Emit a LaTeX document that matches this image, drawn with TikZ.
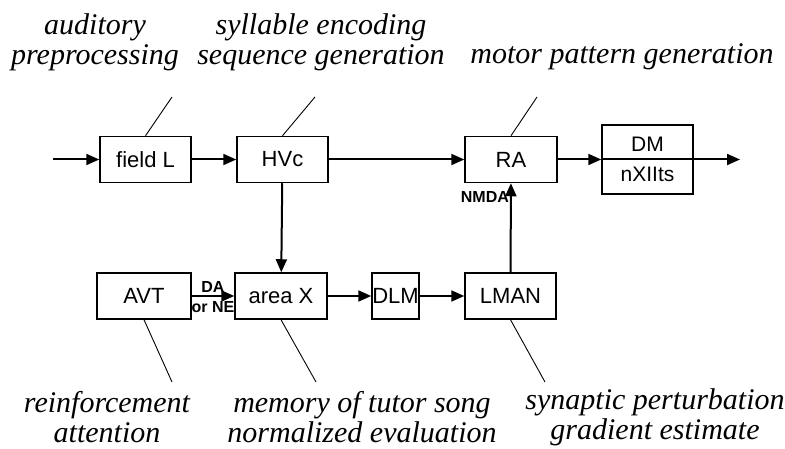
\documentclass[tikz,border=0pt]{standalone}
\usepackage{fontspec}
\setmainfont{Liberation Serif}
\setsansfont{Liberation Sans}
\usetikzlibrary{arrows.meta}

\begin{document}
\begin{tikzpicture}[x=1pt,y=-1pt,
  kasten/.style={draw,line width=1.5pt,minimum height=46pt,inner sep=0pt,font=\sffamily\fontsize{22}{24}\selectfont},
  pfeil/.style={line width=2pt,-{Triangle[length=13pt,width=11pt]}},
  zeiger/.style={line width=0.9pt},
  notiz/.style={align=center,font=\itshape\fontsize{30}{30}\selectfont},
  klein/.style={font=\sffamily\bfseries\fontsize{16}{16}\selectfont,inner sep=1pt}]
% Maße (pt, y nach unten)
\def\yo{159.5} % obere Reihe
\def\yu{296}   % untere Reihe

\useasboundingbox (0,0) rectangle (785,449);

% obere Reihe
\node[kasten,minimum width=91pt] (fieldL) at (145.5,\yo) {field L};
\node[kasten,minimum width=91pt] (HVc) at (282.5,\yo) {HVc};
\node[kasten,minimum width=92pt] (RA) at (511,\yo) {RA};
\node[kasten,minimum width=91pt,minimum height=69pt,align=center,
      font=\sffamily\fontsize{21}{30}\selectfont] (DM) at (647.5,\yo) {DM\\nXIIts};

% untere Reihe
\node[kasten,minimum width=94pt] (AVT) at (144,\yu) {AVT};
\node[kasten,minimum width=92pt] (areaX) at (281,\yu) {area X};
\node[kasten,minimum width=47pt] (DLM) at (395.5,\yu) {DLM};
\node[kasten,minimum width=91pt] (LMAN) at (510.5,\yu) {LMAN};

% Ein- und Ausgang
\coordinate (ein) at (53,\yo);
\coordinate (aus) at (740,\yo);

% Verbindungen
\draw[pfeil] (ein) -- (fieldL);
\draw[pfeil] (fieldL) -- (HVc);
\draw[pfeil] (HVc) -- (RA);
\draw[pfeil] (RA) -- (DM.west);
\draw[pfeil] (DM.west) -- (aus); % Linie durch DM-Kasten
\draw[pfeil] (HVc) -- (areaX);
\draw[pfeil] (AVT) -- node[klein,above=1pt] {DA} node[klein,below=3pt] {or NE} (areaX);
\draw[pfeil] (areaX) -- (DLM);
\draw[pfeil] (DLM) -- (LMAN);
\draw[pfeil] (LMAN) -- node[klein,pos=0.84,left] {NMDA} (RA);

% Beschriftungen oben
\node[notiz] (tAud) at (95,42) {auditory\\preprocessing};
\node[notiz] (tSyl) at (321,42) {syllable encoding\\sequence generation};
\node[notiz] (tMot) at (622,57) {motor pattern generation};
\coordinate (zAud) at (172,97);
\coordinate (zSyl) at (315,97);
\coordinate (zMot) at (537,97);
\draw[zeiger] (fieldL.north) -- (zAud);
\draw[zeiger] (HVc.north) -- (zSyl);
\draw[zeiger] (RA.north) -- (zMot);

% Beschriftungen unten
\node[notiz] (tRei) at (107,417) {reinforcement\\attention};
\node[notiz] (tMem) at (362,417) {memory of tutor song\\normalized evaluation};
\node[notiz] (tSyn) at (655,417) {synaptic perturbation\\gradient estimate};
\coordinate (zRei) at (172,382);
\coordinate (zMem) at (316,382);
\coordinate (zSyn) at (545,382);
\draw[zeiger] (AVT.south) -- (zRei);
\draw[zeiger] (areaX.south) -- (zMem);
\draw[zeiger] (LMAN.south) -- (zSyn);

\end{tikzpicture}
\end{document}
